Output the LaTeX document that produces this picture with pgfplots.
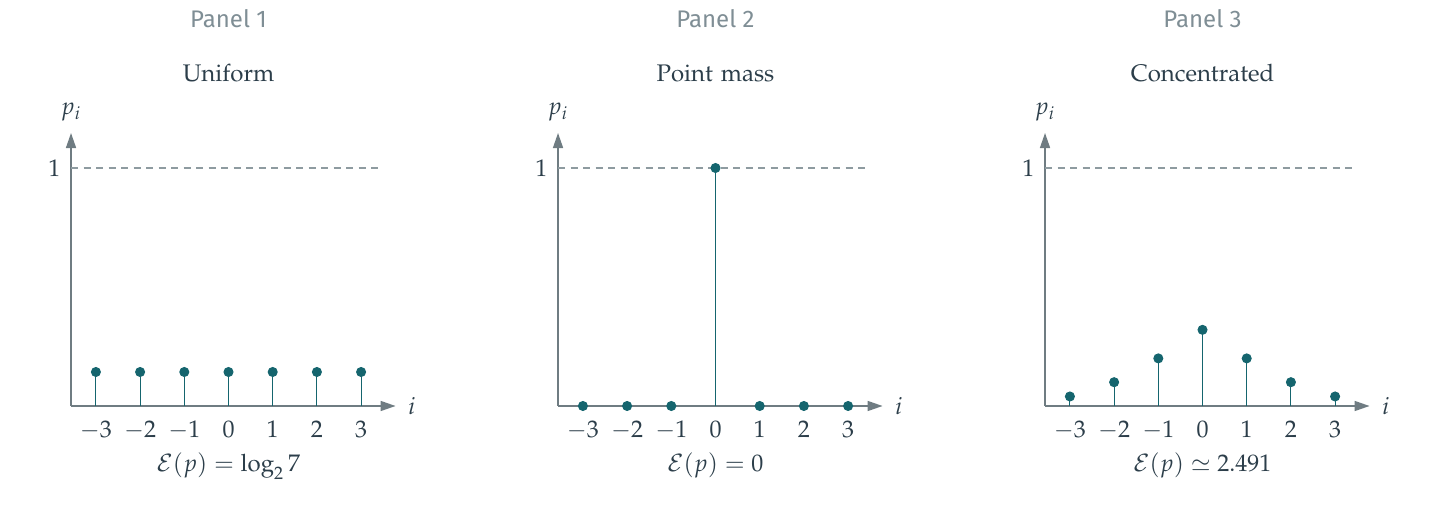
\documentclass[border=0pt]{standalone}
\usepackage{mathpazo}
\usepackage[no-math]{fontspec}
\newfontfamily\panelfont{Fira Sans}
\usepackage{pgfplots}
\pgfplotsset{compat=1.18}
\usetikzlibrary{arrows.meta}
\definecolor{tealc}{HTML}{15656E}
\definecolor{axisgray}{HTML}{6F7C82}
\definecolor{textdark}{HTML}{2C3E4A}
\definecolor{panelgray}{HTML}{7F8E95}
\definecolor{dashgray}{HTML}{8E9BA0}
\pgfplotsset{entropyaxis/.style={
  x=22.1pt, y=119pt, xmin=-3.563, xmax=3.78, ymin=0, ymax=1.147,
  axis lines=left, clip=false,
  axis line style={draw=axisgray, line width=0.75pt, -{Triangle[length=7.5pt,width=5pt]}},
  xtick={-3,...,3}, ytick={1}, major tick length=0pt,
  tick label style={text=textdark, font=\fontsize{12}{14}\selectfont},
  xticklabel style={yshift=-3.8pt},
  yticklabel style={xshift=-1.8pt},
  anchor=origin,
}}
\newcommand{\decor}[3]{%
  \draw[dashgray, line width=0.6pt, dash pattern=on 3.5pt off 2.75pt] (axis cs:-3.563,1) -- (axis cs:3.43,1);
  \node[text=textdark, font=\fontsize{12}{14}\selectfont] at (axis cs:-3.563,1.235) {$p_i$};
  \node[text=textdark, font=\fontsize{12}{14}\selectfont] at (axis cs:4.15,0) {$i$};
  \node[anchor=base, text=textdark, font=\fontsize{12}{14}\selectfont] at (axis cs:0,-0.276) {#3};
  \node[anchor=base, text=textdark, font=\fontsize{12}{14}\selectfont] at (axis cs:0,1.3626) {#2};
  \node[anchor=base, text=panelgray, font=\panelfont\fontsize{12}{14}\selectfont] at (axis cs:0,1.591) {#1};
}
\begin{document}
\begin{tikzpicture}
\useasboundingbox (0,0) rectangle (719.5pt,256.5pt);
% Panel 1
\begin{axis}[entropyaxis, at={(114.25pt,53.5pt)}]
  \decor{Panel 1}{$\mathrm{Uniform}$}{$\mathcal{E}(p)=\log_2 7$}
  \addplot[ycomb, color=tealc, line width=0.5pt, mark=*, mark size=2.25pt, mark options={fill=tealc, draw=tealc}]
    coordinates {(-3,0.142857) (-2,0.142857) (-1,0.142857) (0,0.142857) (1,0.142857) (2,0.142857) (3,0.142857)};
\end{axis}
% Panel 2
\begin{axis}[entropyaxis, at={(357.75pt,53.5pt)}]
  \decor{Panel 2}{$\mathrm{Point\ mass}$}{$\mathcal{E}(p)=0$}
  \addplot[ycomb, color=tealc, line width=0.5pt, mark=*, mark size=2.25pt, mark options={fill=tealc, draw=tealc}]
    coordinates {(-3,0) (-2,0) (-1,0) (0,1) (1,0) (2,0) (3,0)};
\end{axis}
% Panel 3
\begin{axis}[entropyaxis, at={(601.25pt,53.5pt)}]
  \decor{Panel 3}{$\mathrm{Concentrated}$}{$\mathcal{E}(p)\simeq 2.491$}
  \addplot[ycomb, color=tealc, line width=0.5pt, mark=*, mark size=2.25pt, mark options={fill=tealc, draw=tealc}]
    coordinates {(-3,0.04) (-2,0.1) (-1,0.2) (0,0.32) (1,0.2) (2,0.1) (3,0.04)};
\end{axis}
\end{tikzpicture}
\end{document}
